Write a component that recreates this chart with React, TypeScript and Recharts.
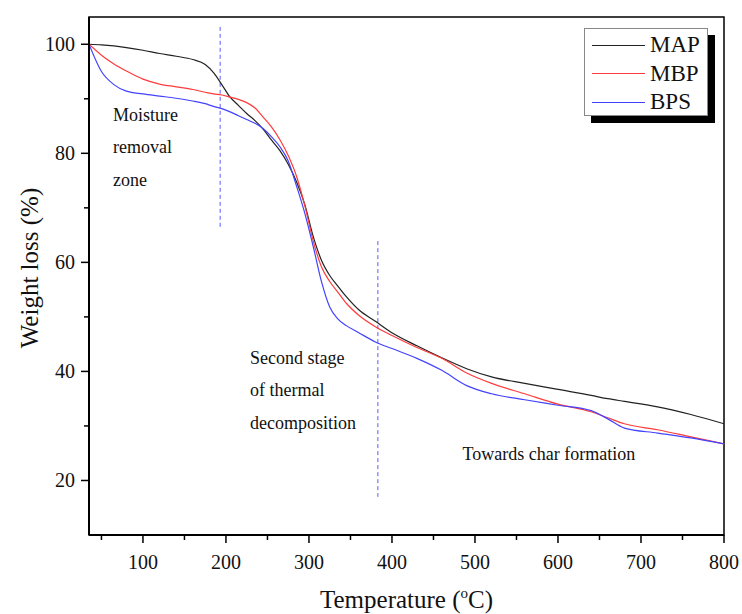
import React from "react";
import {
  LineChart,
  Line,
  XAxis,
  YAxis,
  ReferenceLine,
  ReferenceDot,
  ReferenceArea,
  Legend,
} from "recharts";

const FONT = "'Liberation Serif', 'Times New Roman', serif";

// temperature (°C) and weight (%)
const temperatures = [
  35, 50, 65, 80, 100, 120, 140, 160, 175, 185, 195, 205, 215, 225, 235, 245,
  255, 265, 275, 285, 295, 305, 315, 325, 335, 345, 360, 380, 400, 430, 460,
  490, 520, 560, 600, 640, 660, 680, 720, 760, 800,
];
const mapLoss = [
  100, 99.9, 99.7, 99.4, 98.9, 98.3, 97.8, 97.2, 96.3, 94.8, 92.6, 90.3, 88.8,
  87.3, 86.0, 84.4, 82.4, 80.5, 78.0, 74.8, 70.6, 64.8, 60.4, 57.6, 55.6, 53.7,
  51.3, 49.2, 47.1, 44.7, 42.5, 40.5, 39.0, 37.8, 36.7, 35.6, 35.0, 34.5, 33.5,
  32.1, 30.4,
];
const mbpLoss = [
  100, 98.0, 96.4, 95.1, 93.6, 92.7, 92.2, 91.7, 91.2, 90.9, 90.7, 90.3, 89.9,
  89.3, 88.3, 86.6, 84.8, 82.5, 79.6, 75.8, 70.4, 64.0, 59.2, 56.5, 54.5, 52.5,
  50.3, 48.2, 46.6, 44.4, 42.4, 39.7, 37.8, 35.9, 34.0, 32.6, 31.5, 30.4, 29.3,
  28.0, 26.7,
];
const bpsLoss = [
  100, 95.0, 92.6, 91.4, 90.9, 90.5, 90.1, 89.6, 89.1, 88.6, 88.2, 87.6, 86.9,
  86.2, 85.5, 84.5, 83.0, 81.2, 78.6, 74.0, 69.0, 63.0, 56.5, 51.8, 49.6, 48.4,
  47.1, 45.4, 44.2, 42.4, 40.2, 37.4, 35.9, 34.8, 33.8, 32.8, 31.3, 29.6, 28.7,
  27.8, 26.7,
];

const xMajorTicks = [100, 200, 300, 400, 500, 600, 700, 800];
const xMinorTicks = [50, 150, 250, 350, 450, 550, 650, 750];
const yMajorTicks = [20, 40, 60, 80, 100];
const yMinorTicks = [30, 50, 70, 90];

const series = [
  { key: "map", name: "MAP", color: "#222222" },
  { key: "mbp", name: "MBP", color: "#ff3b3b" },
  { key: "bps", name: "BPS", color: "#4343ff" },
];

// stage boundaries (dashed) and zone notes, in data units
const stageLines = [
  { t: 193, from: 103.2, to: 66 },
  { t: 383, from: 63.9, to: 17 },
];
const notes = [
  { t: 64, w: 86.0, lines: ["Moisture", "removal", "zone"] },
  { t: 229, w: 41.4, lines: ["Second stage", "of thermal", "decomposition"] },
  { t: 485, w: 23.8, lines: ["Towards char formation"] },
];

const data = temperatures.map((t, i) => ({
  t,
  map: mapLoss[i],
  mbp: mbpLoss[i],
  bps: bpsLoss[i],
}));

const XTick = (props: any) => {
  const { x, y, payload } = props;
  const major = xMajorTicks.includes(payload.value);
  return (
    <g>
      <line x1={x} y1={y} x2={x} y2={y + (major ? 8 : 5)} stroke="#000" strokeWidth={1.5} />
      {major && (
        <text x={x} y={y + 34} textAnchor="middle" fontSize={20} fontFamily={FONT} fill="#111">
          {payload.value}
        </text>
      )}
    </g>
  );
};

const YTick = (props: any) => {
  const { x, y, payload } = props;
  const major = yMajorTicks.includes(payload.value);
  return (
    <g>
      <line x1={x} y1={y} x2={x - (major ? 8 : 5)} y2={y} stroke="#000" strokeWidth={1.5} />
      {major && (
        <text x={x - 14} y={y + 7} textAnchor="end" fontSize={20} fontFamily={FONT} fill="#111">
          {payload.value}
        </text>
      )}
    </g>
  );
};

const XTitle = (props: any) => {
  const { viewBox } = props;
  const cx = viewBox.x + viewBox.width / 2;
  return (
    <text x={cx} y={viewBox.y + 73} textAnchor="middle" fontSize={25} fontFamily={FONT} fill="#111">
      <tspan>Temperature (</tspan>
      <tspan fontSize={15} dy={-10}>o</tspan>
      <tspan dy={10}>C)</tspan>
    </text>
  );
};

const YTitle = (props: any) => {
  const { viewBox } = props;
  const cy = viewBox.y + viewBox.height / 2 - 8;
  return (
    <text
      x={38}
      y={cy}
      textAnchor="middle"
      fontSize={25}
      fontFamily={FONT}
      fill="#111"
      transform={`rotate(-90, 38, ${cy})`}
    >
      Weight loss (%)
    </text>
  );
};

const renderNote = (lines: string[]) => (props: any) => {
  const { viewBox } = props;
  return (
    <text x={viewBox.x} y={viewBox.y} fontSize={18} fontFamily={FONT} fill="#111">
      {lines.map((l, i) => (
        <tspan key={l} x={viewBox.x} dy={i === 0 ? 0 : 32.5}>
          {l}
        </tspan>
      ))}
    </text>
  );
};

const renderLegend = (props: any) => {
  const payload = props.payload || [];
  return (
    <div
      style={{
        width: 124,
        height: 88,
        border: "1px solid #888",
        background: "#fff",
        boxShadow: "7px 7px 0 #000",
        boxSizing: "border-box",
        paddingTop: 2,
        fontFamily: FONT,
      }}
    >
      {series.map((s) => {
        const entry = payload.find((p: any) => p.value === s.name);
        return (
          <div key={s.key} style={{ display: "flex", alignItems: "center", height: 28.5 }}>
            <span
              style={{
                display: "inline-block",
                width: 53,
                marginLeft: 7,
                borderTop: `1px solid ${entry ? entry.color : s.color}`,
              }}
            />
            <span style={{ marginLeft: 5, fontSize: 23, color: "#111", lineHeight: "28px" }}>
              {s.name}
            </span>
          </div>
        );
      })}
    </div>
  );
};

export default function App() {
  return (
    <div style={{ position: "absolute", left: 0, top: 0, background: "#fff" }}>
      <LineChart
        width={742}
        height={614}
        data={data}
        margin={{ top: 17, right: 18, left: 0, bottom: 0 }}
      >
        <XAxis
          dataKey="t"
          type="number"
          domain={[35, 800]}
          allowDataOverflow
          ticks={[...xMinorTicks, ...xMajorTicks].sort((a, b) => a - b)}
          interval={0}
          tick={<XTick />}
          tickLine={false}
          tickSize={0}
          tickMargin={0}
          height={79}
          axisLine={{ stroke: "#000", strokeWidth: 2 }}
          label={<XTitle />}
        />
        <YAxis
          type="number"
          domain={[10, 105]}
          allowDataOverflow
          ticks={[...yMinorTicks, ...yMajorTicks].sort((a, b) => a - b)}
          interval={0}
          tick={<YTick />}
          tickLine={false}
          tickSize={0}
          tickMargin={0}
          width={89}
          axisLine={{ stroke: "#000", strokeWidth: 2 }}
          label={<YTitle />}
        />
        <ReferenceArea
          x1={35}
          x2={800}
          y1={10}
          y2={105}
          fill="none"
          fillOpacity={0}
          stroke="#000"
          strokeWidth={1.5}
          ifOverflow="visible"
        />
        {stageLines.map((s) => (
          <ReferenceLine
            key={s.t}
            segment={[
              { x: s.t, y: s.from },
              { x: s.t, y: s.to },
            ]}
            stroke="#5a5aff"
            strokeWidth={1}
            strokeDasharray="4 3"
          />
        ))}
        {notes.map((n) => (
          <ReferenceDot
            key={n.lines[0]}
            x={n.t}
            y={n.w}
            r={0}
            fill="none"
            stroke="none"
            label={renderNote(n.lines)}
          />
        ))}
        {series.map((s) => (
          <Line
            key={s.key}
            type="monotone"
            dataKey={s.key}
            name={s.name}
            stroke={s.color}
            strokeWidth={1.2}
            dot={false}
            isAnimationActive={false}
          />
        ))}
        <Legend
          content={renderLegend}
          layout="horizontal"
          align="center"
          verticalAlign="middle"
          wrapperStyle={{ left: 584, top: 28, width: "auto" }}
        />
      </LineChart>
    </div>
  );
}
